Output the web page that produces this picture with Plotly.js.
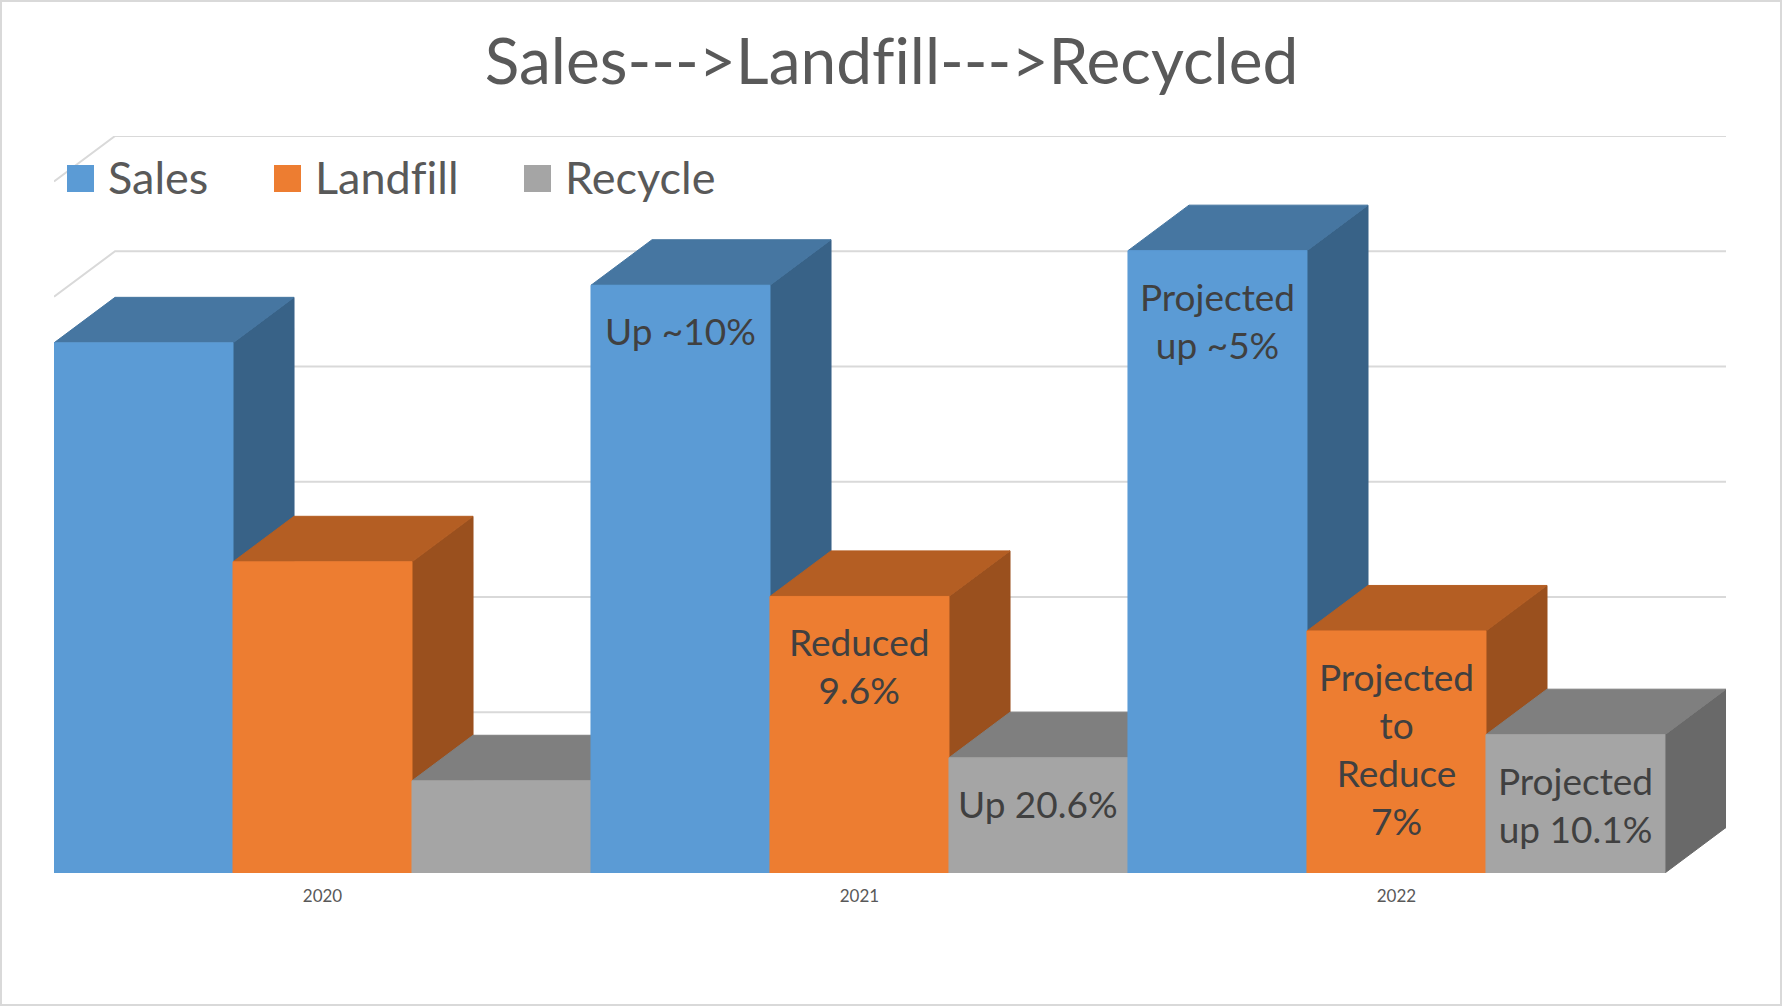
<!DOCTYPE html>
<html><head><meta charset="utf-8">
<script src="https://cdn.plot.ly/plotly-3.0.1.min.js"></script>
<style>html,body{margin:0;padding:0;background:#fff;}#chart{width:1783px;height:1008px;}</style>
</head><body><div id="chart"></div>
<script>
// ---- data ----
const categories = ['2020', '2021', '2022'];
const seriesNames = ['Sales', 'Landfill', 'Recycle'];
const sales = [4.6, 5.1, 5.4];
const landfill = [2.7, 2.4, 2.1];
const recycle = [0.8, 1.0, 1.2];
const salesLabels = ['', 'Up ~10%', 'Projected<br>up ~5%'];
const landfillLabels = ['', 'Reduced<br>9.6%', 'Projected<br>to<br>Reduce<br>7%'];
const recycleLabels = ['', 'Up 20.6%', 'Projected<br>up 10.1%'];
const gridValues = [0, 1, 2, 3, 4, 5, 6];
const titleText = 'Sales---&gt;Landfill---&gt;Recycled';

// ---- style ----
const FONT = 'Lato, "Open Sans", sans-serif';
const W = 1783, H = 1008;
const M = {l: 54, r: 57, t: 136, b: 135};
const PW = W - M.l - M.r, PH = H - M.t - M.b;
const DX = 0.341, DY = 0.395;           // depth offset in axis units
const colors = [
  {front: '#5B9BD5', top: '#4676A1', side: '#386287'},
  {front: '#ED7D31', top: '#B45E23', side: '#9A501E'},
  {front: '#A5A5A5', top: '#7F7F7F', side: '#696969'}
];
const GRID = '#D9D9D9';
const seriesValues = [sales, landfill, recycle];
const seriesLabels = [salesLabels, landfillLabels, recycleLabels];
const nSeries = seriesNames.length;
const nBars = categories.length * nSeries;
const xMax = nBars + DX;
const yMax = gridValues[gridValues.length - 1] + DY;
// break the "fi" ligature so the text reads like the original
const noLig = s => s.replace(/fi/g, 'f\u200Ci');

const px = x => (x - M.l) / PW;          // pixel -> paper
const py = y => (H - M.b - y) / PH;

const traces = [];
// back wall gridlines + left wall diagonals
gridValues.forEach(k => {
  traces.push({type: 'scatter', mode: 'lines', x: [0, DX, nBars + DX], y: [k, k + DY, k + DY],
    line: {color: GRID, width: 2}, hoverinfo: 'skip', showlegend: false});
});
// front floor edge
traces.push({type: 'scatter', mode: 'lines', x: [0, nBars], y: [0, 0],
  line: {color: GRID, width: 2}, hoverinfo: 'skip', showlegend: false});

const annotations = [];
categories.forEach((cat, i) => {
  seriesNames.forEach((name, j) => {
    const b = i * nSeries + j;
    const v = seriesValues[j][i];
    const x0 = b, x1 = b + 1;
    const c = colors[j];
    const face = (xs, ys, col) => traces.push({type: 'scatter', mode: 'lines', x: xs, y: ys,
      fill: 'toself', fillcolor: col, line: {color: col, width: 1}, hoverinfo: 'skip',
      showlegend: false, name: name});
    face([x1, x1 + DX, x1 + DX, x1, x1], [0, DY, v + DY, v, 0], c.side);
    face([x0, x1, x1 + DX, x0 + DX, x0], [v, v, v + DY, v + DY, v], c.top);
    face([x0, x1, x1, x0, x0], [0, 0, v, v, 0], c.front);
    const lab = seriesLabels[j][i];
    if (lab) annotations.push({x: b + 0.5, y: v, xref: 'x', yref: 'y', yanchor: 'top', xanchor: 'center',
      yshift: -21, showarrow: false, text: lab, align: 'center',
      font: {family: FONT, size: 37, color: '#404040'}});
  });
});

// legend (drawn as shapes + text)
const shapes = [];
const legendX = [67, 274, 524];
seriesNames.forEach((name, j) => {
  shapes.push({type: 'rect', xref: 'paper', yref: 'paper', x0: px(legendX[j]), x1: px(legendX[j] + 27),
    y0: py(192), y1: py(165), fillcolor: colors[j].front, line: {width: 0}});
  annotations.push({xref: 'paper', yref: 'paper', x: px(legendX[j] + 39), y: py(177), xanchor: 'left',
    yanchor: 'middle', showarrow: false, text: noLig(name), font: {family: FONT, size: 45, color: '#595959'}});
});
// chart border
shapes.push({type: 'rect', xref: 'paper', yref: 'paper', x0: px(1), x1: px(W - 2), y0: py(H - 3), y1: py(1),
  line: {color: GRID, width: 2}, fillcolor: 'rgba(0,0,0,0)', layer: 'below'});

const layout = {
  width: W, height: H, margin: {l: M.l, r: M.r, t: M.t, b: M.b, pad: 0, autoexpand: false},
  paper_bgcolor: '#fff', plot_bgcolor: '#fff', showlegend: false,
  title: {text: noLig(titleText), font: {family: FONT, size: 64, color: '#595959'},
    x: 0.5, xanchor: 'center', xref: 'container', y: 1 - 62 / H, yref: 'container', yanchor: 'middle'},
  xaxis: {range: [0, xMax], showgrid: false, zeroline: false, showline: false,
    tickvals: categories.map((c, i) => i * nSeries + nSeries / 2), ticktext: categories,
    ticks: 'outside', ticklen: 8, tickcolor: 'rgba(0,0,0,0)',
    tickfont: {family: FONT, size: 17, color: '#595959'}, fixedrange: true},
  yaxis: {range: [0, yMax], showgrid: false, zeroline: false, showline: false, showticklabels: false, fixedrange: true},
  annotations: annotations, shapes: shapes
};
Plotly.newPlot('chart', traces, layout, {displayModeBar: false, staticPlot: true});
</script>
</body></html>
